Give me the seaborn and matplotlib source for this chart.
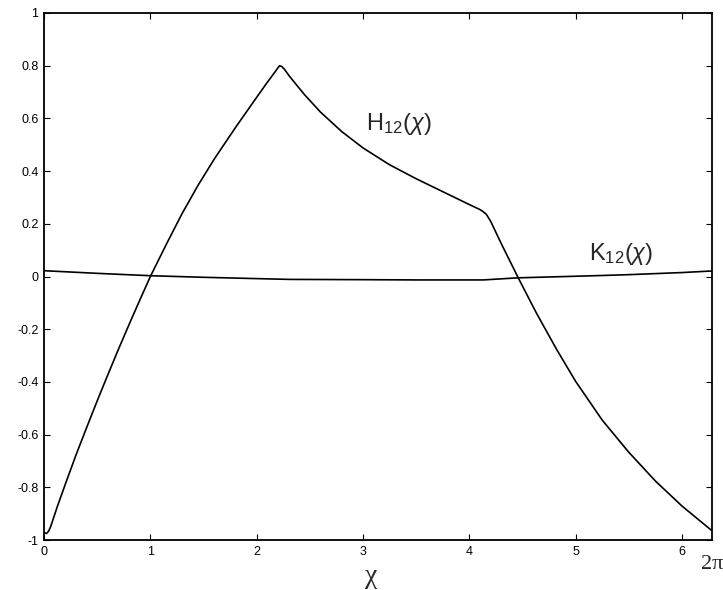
import numpy as np
import pandas as pd
import matplotlib
matplotlib.use("Agg")
import matplotlib.pyplot as plt
import seaborn as sns

# values
chi_h = [0.0, 0.025, 0.045, 0.0625, 0.125, 0.203, 0.3, 0.4, 0.5, 0.6,
         0.7, 0.8, 0.9, 1.0, 1.15, 1.3, 1.45, 1.6, 1.8, 2.0,
         2.1, 2.17, 2.2, 2.216, 2.235, 2.26, 2.31, 2.45, 2.6, 2.8,
         3.0, 3.25, 3.5, 3.75, 4.0, 4.1, 4.13, 4.16, 4.2, 4.3,
         4.46, 4.63, 4.82, 5.0, 5.25, 5.5, 5.75, 6.0, 6.283]
h12 = [-0.972, -0.975, -0.965, -0.949, -0.873, -0.785, -0.678, -0.574, -0.472, -0.373,
       -0.276, -0.182, -0.090, 0.0, 0.122, 0.240, 0.347, 0.445, 0.565, 0.680,
       0.737, 0.775, 0.792, 0.8, 0.797, 0.787, 0.759, 0.690, 0.624, 0.550,
       0.488, 0.424, 0.371, 0.322, 0.273, 0.254, 0.246, 0.236, 0.21, 0.125,
       -0.005, -0.138, -0.276, -0.398, -0.545, -0.667, -0.776, -0.871, -0.965]

chi_k = [0.0, 0.5, 1.0, 1.5, 2.0, 2.31, 3.0, 3.5, 4.13, 4.46, 5.0, 5.26, 5.5, 6.0, 6.283]
k12 = [0.022, 0.012, 0.003, -0.003, -0.008, -0.011, -0.012, -0.013, -0.013, -0.005,
       0.001, 0.004, 0.007, 0.015, 0.021]

x_ticks = [0, 1, 2, 3, 4, 5, 6]
y_ticks = [-1, -0.8, -0.6, -0.4, -0.2, 0, 0.2, 0.4, 0.6, 0.8, 1]
y_tick_labels = ["-1", "-0.8", "-0.6", "-0.4", "-0.2", "0", "0.2", "0.4", "0.6", "0.8", "1"]

sns.set_style("ticks")
plt.rcParams["font.family"] = ["Liberation Sans", "DejaVu Sans"]
plt.rcParams["mathtext.fontset"] = "custom"
plt.rcParams["mathtext.rm"] = "Liberation Sans"
plt.rcParams["mathtext.it"] = "Liberation Sans:italic"

df_h = pd.DataFrame({"chi": chi_h, "val": h12})
df_k = pd.DataFrame({"chi": chi_k, "val": k12})

fig = plt.figure(figsize=(7.23, 5.90), dpi=100)
ax = fig.add_axes([0.0609, 0.0847, 0.9240, 0.8933])

sns.lineplot(data=df_h, x="chi", y="val", ax=ax, color="black", linewidth=1.2, sort=False)
sns.lineplot(data=df_k, x="chi", y="val", ax=ax, color="black", linewidth=1.2, sort=False)

ax.set_xlim(0, 2 * np.pi)
ax.set_ylim(-1, 1)
ax.set_xticks(x_ticks)
ax.set_xticklabels([str(t) for t in x_ticks])
ax.set_yticks(y_ticks)
ax.set_yticklabels(y_tick_labels)
ax.tick_params(direction="in", length=4, width=0.8, labelsize=9, colors="black",
               top=True, right=True, pad=4)
for s in ax.spines.values():
    s.set_linewidth(1.3)
    s.set_color("black")

ax.set_xlabel("χ", fontsize=20, family=["Liberation Serif"])
ax.xaxis.set_label_coords(0.49, -0.045)
ax.set_ylabel("")

ax.text(3.03, 0.557, r"$\mathrm{H}_{12}(\chi)$", fontsize=17)
ax.text(5.125, 0.063, r"$\mathrm{K}_{12}(\chi)$", fontsize=17)
ax.annotate("2π", xy=(2 * np.pi, -1), xycoords="data", xytext=(0, -11),
            textcoords="offset points", ha="center", va="top", fontsize=16,
            family=["Liberation Serif"])

fig.savefig("out.png", dpi=100)
